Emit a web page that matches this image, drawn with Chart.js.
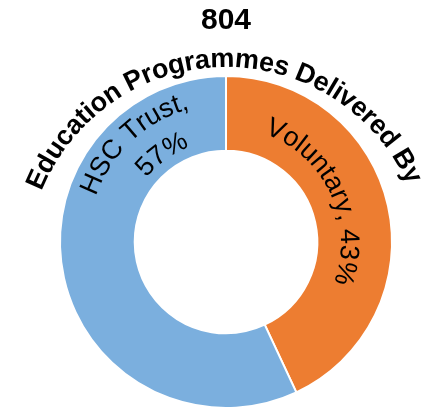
<!DOCTYPE html>
<html>
<head>
<meta charset="utf-8">
<script src="https://cdn.jsdelivr.net/npm/chart.js@4/dist/chart.umd.min.js"></script>
<style>
  html, body { margin: 0; padding: 0; background: #ffffff; }
  #wrap { width: 430px; height: 411px; }
</style>
</head>
<body>
<div id="wrap"><canvas id="delivery-chart" width="430" height="411"></canvas></div>
<script>
// Chart data
const deliveryLabels = ['Voluntary', 'HSC Trust'];
const deliveryValues = [346, 458];
const deliveryColors = ['#ED7D31', '#7BAFDE'];
const chartHeading = 'Education Programmes Delivered By';

const totalProgrammes = deliveryValues.reduce((a, b) => a + b, 0);
const FONT = '"Liberation Sans", Arial, sans-serif';

// Draw a string along an arc, letters upright with their tops facing outward
function drawArcText(ctx, text, cx, cy, radius, centerDeg, font, spanDeg) {
  ctx.save();
  ctx.font = font;
  ctx.fillStyle = '#000000';
  ctx.textAlign = 'center';
  ctx.textBaseline = 'alphabetic';
  const widths = [...text].map(ch => ctx.measureText(ch).width);
  const natural = widths.reduce((a, b) => a + b, 0);
  let gap = 0;
  if (spanDeg) {
    gap = (spanDeg * Math.PI / 180 * radius - natural) / (text.length - 1);
  }
  const total = natural + gap * (text.length - 1);
  let angle = centerDeg * Math.PI / 180 - total / 2 / radius;
  [...text].forEach((ch, i) => {
    const a = angle + widths[i] / 2 / radius;
    ctx.save();
    ctx.translate(cx + radius * Math.sin(a), cy - radius * Math.cos(a));
    ctx.rotate(a);
    ctx.fillText(ch, 0, 0);
    ctx.restore();
    angle += (widths[i] + gap) / radius;
  });
  ctx.restore();
}

const arcLabelsPlugin = {
  id: 'arcLabels',
  afterDraw(chart) {
    const ctx = chart.ctx;
    const arc = chart.getDatasetMeta(0).data[0];
    if (!arc) return;
    const cx = arc.x;
    const cy = arc.y;
    const pct = deliveryValues.map(v => Math.round(v / totalProgrammes * 100));

    // heading bent over the ring
    drawArcText(ctx, chartHeading, cx, cy + 24, 199, -1, 'bold 27px ' + FONT, 134);

    // slice labels
    const labelFont = '27px ' + FONT;
    drawArcText(ctx, deliveryLabels[0] + ', ' + pct[0] + '%', cx, cy, 115, 65, labelFont);
    drawArcText(ctx, deliveryLabels[1] + ',', cx, cy, 138, -43, labelFont);
    drawArcText(ctx, pct[1] + '%', cx, cy, 102, -36, labelFont);
  }
};

new Chart(document.getElementById('delivery-chart'), {
  type: 'doughnut',
  data: {
    labels: deliveryLabels,
    datasets: [{
      data: deliveryValues,
      backgroundColor: deliveryColors,
      borderColor: '#ffffff',
      borderWidth: 2
    }]
  },
  options: {
    responsive: false,
    animation: false,
    cutout: '55%',
    layout: {
      padding: { left: 59, right: 37, top: 0, bottom: 2 }
    },
    plugins: {
      legend: { display: false },
      tooltip: { enabled: false },
      title: {
        display: true,
        text: String(totalProgrammes),
        color: '#000000',
        font: { family: FONT, size: 30, weight: 'bold' },
        padding: { top: 3, bottom: 36 }
      }
    }
  },
  plugins: [arcLabelsPlugin]
});
</script>
</body>
</html>
